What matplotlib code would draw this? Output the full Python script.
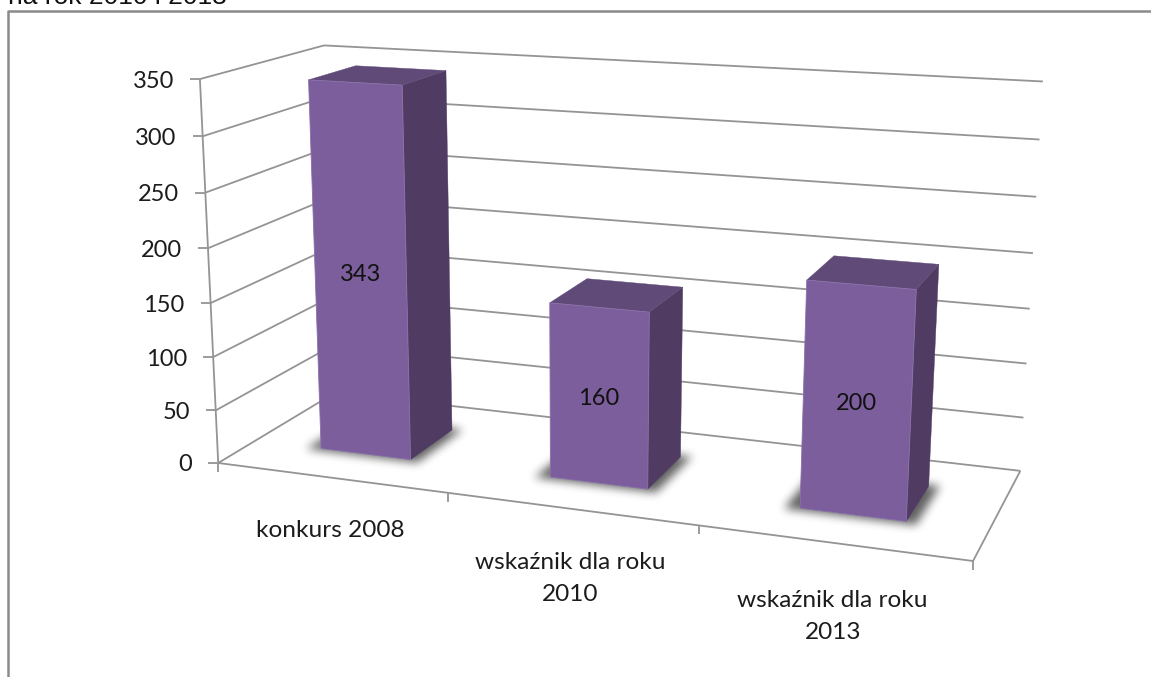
import matplotlib
matplotlib.use("Agg")
import matplotlib.pyplot as plt
from matplotlib.patches import Polygon
from matplotlib.path import Path
import numpy as np

categories = ["konkurs 2008", "wskaźnik dla roku\n2010", "wskaźnik dla roku\n2013"]
values = [343, 160, 200]
y_ticks = [0, 50, 100, 150, 200, 250, 300, 350]
caption = "na rok 2010 i 2013"

GRID = "#949494"
FRONT = "#7b5e9b"
FRONT_EDGE = "#8a70aa"
SIDE = "#503c63"
TOP = "#5f4a78"
TEXT = "#1c1c1c"
WIDTH, HEIGHT = 1151, 677

# camera calibration: (category, value, depth) -> pixel
box_points = np.array([
    (0, 0, 0), (0, 350, 0), (0, 350, 1), (3, 350, 1), (3, 0, 1),
    (3, 0, 0), (0, 0, 1), (1, 0, 0), (2, 0, 0),
], dtype=float)
box_pixels = np.array([
    (219.5, 461.7), (199, 79), (325, 45), (1042.7, 82), (1020.7, 469.3),
    (973.3, 561.7), (334, 394), (448, 493), (698, 526),
], dtype=float)


def fit_camera(points, pixels):
    rows = []
    for (x, y, z), (u, v) in zip(points, pixels):
        rows.append([x, y, z, 1, 0, 0, 0, 0, -u * x, -u * y, -u * z, -u])
        rows.append([0, 0, 0, 0, x, y, z, 1, -v * x, -v * y, -v * z, -v])
    # scale the value axis so the system stays well conditioned
    scale = np.diag([1, 0.01, 1, 1, 1, 0.01, 1, 1, 1, 0.01, 1, 1.0])
    _, _, vt = np.linalg.svd(np.array(rows) @ scale)
    return (scale @ vt[-1]).reshape(3, 4)


camera = fit_camera(box_points, box_pixels)


def project(x, y, z):
    h = camera @ np.array([x, y, z, 1.0])
    return h[0] / h[2], h[1] / h[2]


fig = plt.figure(figsize=(WIDTH / 100, HEIGHT / 100), dpi=100)
ax = fig.add_axes([0, 0, 1, 1])
ax.axis("off")


def seg(a, b, lw=1.3, color=GRID):
    ax.plot([a[0], b[0]], [a[1], b[1]], color=color, lw=lw, solid_capstyle="butt", zorder=1)


def face(corners, color, zorder, edge=None):
    pts = [project(*c) for c in corners]
    ax.add_patch(Polygon(pts, closed=True, facecolor=color, edgecolor=edge or color,
                         lw=0.6 if edge else 0.3, zorder=zorder))


def soft_shadow(corners, passes=3, radius=4, strength=0.62):
    # blurred footprint on the floor, as an image layer
    pts = [project(*c) for c in corners]
    gx, gy = np.meshgrid(np.arange(WIDTH) + 0.5, np.arange(HEIGHT) + 0.5)
    mask = Path(pts).contains_points(np.c_[gx.ravel(), gy.ravel()]).reshape(gx.shape).astype(float)
    kernel = np.ones(2 * radius + 1) / (2 * radius + 1)
    for _ in range(passes):
        mask = np.apply_along_axis(np.convolve, 0, mask, kernel, mode="same")
        mask = np.apply_along_axis(np.convolve, 1, mask, kernel, mode="same")
    rgba = np.zeros((HEIGHT, WIDTH, 4))
    rgba[..., 3] = mask * strength
    ax.imshow(rgba, extent=(0, WIDTH, HEIGHT, 0), zorder=2, interpolation="nearest")


# outer frame and the clipped caption above it
ax.plot([8, 8, WIDTH], [HEIGHT, 11, 11], color="#8a8a8a", lw=1.8, zorder=1)
ax.text(8, 4, caption, family="Liberation Sans", fontsize=19, color="#111111", ha="left", va="baseline")

# gridlines on the side and back walls
for t in y_ticks:
    seg(project(0, t, 0), project(0, t, 1))
    seg(project(0, t, 1), project(3, t, 1))
    px, py = project(0, t, 0)
    seg((px - 10, py), (px, py))
    ax.text(px - 26, py + 2, str(t), family="Lato", fontsize=17, color=TEXT, ha="right", va="center")

# floor and axes
seg(project(0, 0, 0), project(0, 350, 0))
seg(project(0, 0, 0), project(3, 0, 0))
seg(project(3, 0, 0), project(3, 0, 1))
for i in range(len(categories) + 1):
    px, py = project(i, 0, 0)
    seg((px, py), (px, py + 9))

label_gap = [42, 43, 47]
for i, name in enumerate(categories):
    px, py = project(i + 0.5, 0, 0)
    ax.text(px, py + label_gap[i], name, family="Lato", fontsize=17.6, color=TEXT,
            ha="center", va="top", linespacing=1.66)

# bars, gap width and gap depth 150 %
bar_w = 0.4
bar_d = 0.4
for i, v in enumerate(values):
    x0 = i + 0.5 - bar_w / 2
    x1 = x0 + bar_w
    z0 = 0.5 - bar_d / 2
    z1 = z0 + bar_d

    soft_shadow([(x0 - 0.055, 0, z0 - 0.025), (x1 + 0.04, 0, z0 - 0.025),
                 (x1 + 0.04, 0, z1 + 0.02), (x0 - 0.055, 0, z1 + 0.02)])

    face([(x1, 0, z0), (x1, v, z0), (x1, v, z1), (x1, 0, z1)], SIDE, 3)
    face([(x0, v, z0), (x1, v, z0), (x1, v, z1), (x0, v, z1)], TOP, 3)
    face([(x0, 0, z0), (x1, 0, z0), (x1, v, z0), (x0, v, z0)], FRONT, 4, edge=FRONT_EDGE)

    px, py = project(i + 0.5, v / 2, z0)
    ax.text(px, py + 2, str(v), family="Lato", fontsize=17, color="#111111", ha="center", va="center", zorder=5)

ax.set_xlim(0, WIDTH)
ax.set_ylim(HEIGHT, 0)
ax.set_aspect("auto")
fig.savefig("out.png", dpi=100)
